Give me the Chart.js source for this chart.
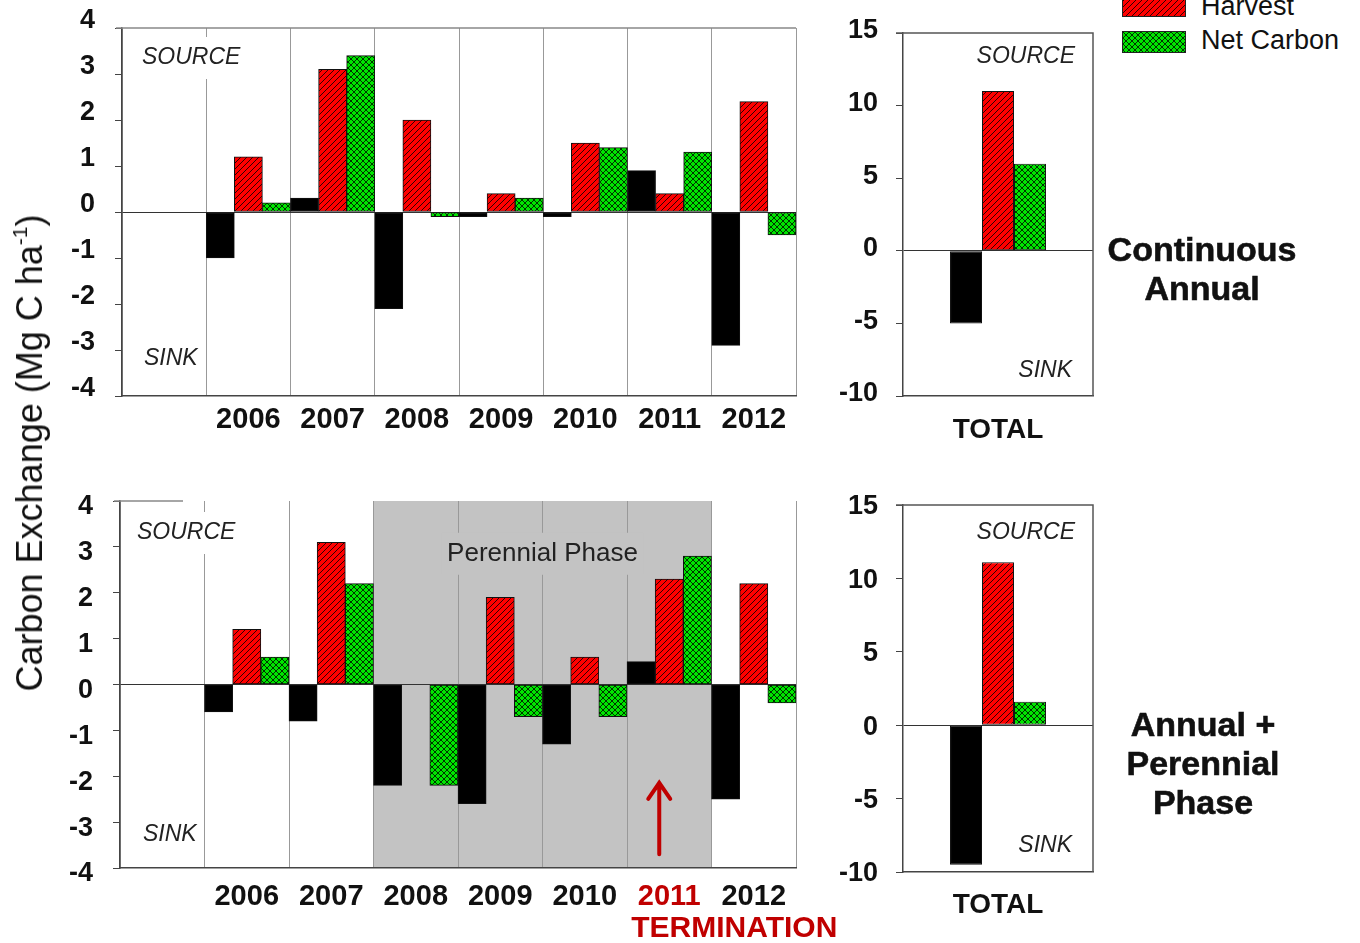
<!DOCTYPE html>
<html>
<head>
<meta charset="utf-8">
<script src="https://cdn.jsdelivr.net/npm/chart.js@4.4.1/dist/chart.umd.min.js"></script>
<style>
  html, body { margin: 0; padding: 0; background: #fff; width: 1360px; height: 943px; overflow: hidden;
    font-family: "Liberation Sans", Arial, sans-serif; }
  canvas.panel { position: absolute; }
  .txt { position: absolute; color: #111; white-space: nowrap; }
  .ytitle { left: 30px; top: 453px; font-size: 36px; transform: translate(-50%, -50%) rotate(-90deg); }
  .ytitle sup { font-size: 21px; position: relative; top: -2px; }
  .side { width: 300px; text-align: center; font-weight: bold; font-size: 34px; line-height: 39px;
    -webkit-text-stroke: 0.6px #111; }
  .legend-text { font-size: 27px; line-height: 30px; }
  canvas.swatch { position: absolute; border: 1px solid #222; }
</style>
</head>
<body>
<canvas id="annualYears" class="panel" style="left:0;top:-10px" width="830" height="460"></canvas>
<canvas id="annualTotal" class="panel" style="left:830px;top:-10px" width="280" height="460"></canvas>
<canvas id="rotationYears" class="panel" style="left:0;top:455px" width="850" height="488"></canvas>
<canvas id="rotationTotal" class="panel" style="left:830px;top:455px" width="280" height="488"></canvas>

<div class="txt ytitle">Carbon Exchange (Mg C ha<sup>-1</sup>)</div>
<div class="txt side" style="left:1052px;top:230px">Continuous<br>Annual</div>
<div class="txt side" style="left:1053px;top:705px">Annual +<br>Perennial<br>Phase</div>

<canvas id="swHarvest" class="swatch" style="left:1122px;top:-6px" width="62" height="21"></canvas>
<div class="txt legend-text" style="left:1201px;top:-9px">Harvest</div>
<canvas id="swNet" class="swatch" style="left:1122px;top:31px" width="62" height="20"></canvas>
<div class="txt legend-text" style="left:1201px;top:25px">Net Carbon</div>

<script>
// ---- data (Mg C ha-1) ----
const years = ['', '2006', '2007', '2008', '2009', '2010', '2011', '2012'];

const annualNee     = [null, -1.0, 0.3, -2.1, -0.1, -0.1, 0.9, -2.9];
const annualHarvest = [null,  1.2, 3.1,  2.0,  0.4,  1.5, 0.4,  2.4];
const annualNet     = [null,  0.2, 3.4, -0.1,  0.3,  1.4, 1.3, -0.5];

const rotationNee     = [null, -0.6, -0.8, -2.2, -2.6, -1.3, 0.5, -2.5];
const rotationHarvest = [null,  1.2,  3.1, null,  1.9,  0.6, 2.3,  2.2];
const rotationNet     = [null,  0.6,  2.2, -2.2, -0.7, -0.7, 2.8, -0.4];

const totalLabels = ['TOTAL'];
const annualTotalNee = [-5.0];
const annualTotalHarvest = [11.0];
const annualTotalNet = [6.0];
const rotationTotalNee = [-9.5];
const rotationTotalHarvest = [11.1];
const rotationTotalNet = [1.6];

const yearlyRange = [-4, 4];
const totalRange = [-10, 15];
const perennialSpan = ['2008', '2011'];
const terminationYear = '2011';

// ---- fills ----
const FONT = '"Liberation Sans", Arial, sans-serif';
const RED = '#ff0000', GREEN = '#00e400', DARK_RED = '#c00000';

function makeTile(size, draw) {
  const c = document.createElement('canvas');
  c.width = size; c.height = size;
  draw(c.getContext('2d'), size);
  return c;
}
const hatchTile = makeTile(6, (g, s) => {
  g.fillStyle = RED; g.fillRect(0, 0, s, s);
  g.strokeStyle = '#300000'; g.lineWidth = 1;
  g.beginPath();
  for (let k = -s; k <= s; k += s) { g.moveTo(k, s); g.lineTo(k + s, 0); }
  g.stroke();
});
const crossTile = makeTile(6, (g, s) => {
  g.fillStyle = GREEN; g.fillRect(0, 0, s, s);
  g.strokeStyle = '#003300'; g.lineWidth = 1;
  g.beginPath();
  for (let k = -s; k <= s; k += s) {
    g.moveTo(k, s); g.lineTo(k + s, 0);
    g.moveTo(k, 0); g.lineTo(k + s, s);
  }
  g.stroke();
});
function patternFor(tile) {
  const ctx = document.createElement('canvas').getContext('2d');
  return ctx.createPattern(tile, 'repeat');
}
const harvestFill = patternFor(hatchTile);
const netFill = patternFor(crossTile);

// legend swatches
[['swHarvest', harvestFill], ['swNet', netFill]].forEach(([id, fill]) => {
  const c = document.getElementById(id), g = c.getContext('2d');
  g.fillStyle = fill; g.fillRect(0, 0, c.width, c.height);
});

// ---- drawing helpers ----
function textWithBox(ctx, text, x, y, align, font, bg, color) {
  ctx.save();
  ctx.font = font;
  const w = ctx.measureText(text).width;
  const x0 = align === 'left' ? x : (align === 'center' ? x - w / 2 : x - w);
  if (bg) {
    ctx.fillStyle = bg;
    ctx.fillRect(x0 - 6, y - 21, w + 12, 42);
  }
  ctx.fillStyle = color || '#222';
  ctx.textAlign = 'left';
  ctx.textBaseline = 'middle';
  ctx.fillText(text, x0, y);
  ctx.restore();
}
const ITALIC = 'italic 23px ' + FONT;

function barDatasets(nee, harvest, net) {
  const common = { borderColor: '#111', borderWidth: 1, borderSkipped: false };
  return [
    Object.assign({ label: 'NEE', data: nee, backgroundColor: '#000' }, common),
    Object.assign({ label: 'Harvest', data: harvest, backgroundColor: harvestFill }, common),
    Object.assign({ label: 'Net Carbon', data: net, backgroundColor: netFill }, common)
  ];
}

function panelOptions(o) {
  return {
    responsive: false,
    animation: false,
    layout: { padding: { top: o.padTop, right: o.padRight, left: 0, bottom: 0 } },
    plugins: { legend: { display: false }, tooltip: { enabled: false } },
    datasets: { bar: { categoryPercentage: o.catPct, barPercentage: 1 } },
    scales: {
      x: {
        afterFit: s => { s.height = o.xHeight; },
        grid: { display: o.xGrid, offset: true, color: '#999', lineWidth: 1, drawTicks: false },
        border: { display: true, color: '#444', width: 1.5 },
        ticks: {
          padding: o.xPad,
          font: { family: FONT, size: o.xFont, weight: 'bold' },
          color: o.xColor || '#111',
          maxRotation: 0, autoSkip: false
        }
      },
      y: {
        min: o.range[0], max: o.range[1],
        afterFit: s => { s.width = o.yWidth; },
        grid: {
          color: c => (c.tick && c.tick.value === 0 ? '#333' : 'rgba(0,0,0,0)'),
          lineWidth: 1, tickColor: '#444', tickLength: 7, drawTicks: true
        },
        border: { display: true, color: '#444', width: 1.5 },
        ticks: {
          stepSize: o.step, padding: o.yPad, labelOffset: o.labelOffset,
          font: { family: FONT, size: 27, weight: 'bold' }, color: '#111'
        }
      }
    }
  };
}

// shaded band, plot frame pieces, SOURCE/SINK tags, termination marker
function yearlyDecor(opts) {
  return {
    id: 'yearlyDecor',
    beforeDraw(chart) {
      const { ctx, chartArea: a, scales: { x } } = chart;
      if (opts.shade) {
        const i0 = years.indexOf(opts.shade[0]), i1 = years.indexOf(opts.shade[1]);
        const half = (x.getPixelForValue(1) - x.getPixelForValue(0)) / 2;
        const x0 = x.getPixelForValue(i0) - half, x1 = x.getPixelForValue(i1) + half;
        ctx.save();
        ctx.fillStyle = '#c3c3c3';
        ctx.fillRect(x0, a.top, x1 - x0, a.bottom - a.top);
        ctx.restore();
      }
    },
    beforeDatasetsDraw(chart) {
      const { ctx, chartArea: a, scales: { x, y } } = chart;
      ctx.save();
      ctx.strokeStyle = '#888'; ctx.lineWidth = 1.5;
      ctx.beginPath();
      ctx.moveTo(a.left - 6, a.top);
      ctx.lineTo(opts.fullTop ? a.right : a.left + 63, a.top);
      ctx.stroke();
      ctx.restore();
      textWithBox(ctx, 'SOURCE', a.left + opts.srcDx, a.top + opts.srcDy, 'left', ITALIC, '#fff');
      textWithBox(ctx, 'SINK', a.left + opts.sinkDx, a.bottom - opts.sinkDy, 'left', ITALIC, '#fff');
      if (opts.shade) {
        const i0 = years.indexOf(opts.shade[0]), i1 = years.indexOf(opts.shade[1]);
        const cx = (x.getPixelForValue(i0) + x.getPixelForValue(i1)) / 2;
        textWithBox(ctx, 'Perennial Phase', cx, y.getPixelForValue(2.85), 'center',
          '26px ' + FONT, '#c3c3c3', '#222');
      }
    },
    afterDraw(chart) {
      if (!opts.termination) return;
      const { ctx, chartArea: a, scales: { x, y } } = chart;
      const i = years.indexOf(opts.termination);
      const ax = x.getPixelForValue(i) - 10;
      const yTail = y.getPixelForValue(-3.7), yHead = y.getPixelForValue(-2.1);
      ctx.save();
      ctx.strokeStyle = DARK_RED; ctx.lineWidth = 4; ctx.lineCap = 'round';
      ctx.beginPath();
      ctx.moveTo(ax, yTail); ctx.lineTo(ax, yHead + 2);
      ctx.moveTo(ax - 11, yHead + 18); ctx.lineTo(ax, yHead + 2); ctx.lineTo(ax + 11, yHead + 18);
      ctx.stroke();
      ctx.restore();
      ctx.save();
      ctx.font = 'bold 30px ' + FONT;
      ctx.fillStyle = DARK_RED;
      ctx.textAlign = 'left'; ctx.textBaseline = 'middle';
      ctx.fillText('TERMINATION', x.getPixelForValue(i) - 38, a.bottom + 61);
      ctx.restore();
    }
  };
}

function totalDecor(opts) {
  return {
    id: 'totalDecor',
    beforeDatasetsDraw(chart) {
      const { ctx, chartArea: a } = chart;
      ctx.save();
      ctx.strokeStyle = '#555'; ctx.lineWidth = 1.5;
      ctx.beginPath();
      ctx.moveTo(a.left - 7, a.top); ctx.lineTo(a.right, a.top); ctx.lineTo(a.right, a.bottom);
      ctx.stroke();
      ctx.restore();
      textWithBox(ctx, 'SOURCE', a.right - 18, a.top + opts.srcDy, 'right', ITALIC, null);
      textWithBox(ctx, 'SINK', a.right - 21, a.bottom - opts.sinkDy, 'right', ITALIC, null);
    }
  };
}

// ---- Continuous annual: yearly ----
new Chart(document.getElementById('annualYears'), {
  type: 'bar',
  data: { labels: years, datasets: barDatasets(annualNee, annualHarvest, annualNet) },
  options: panelOptions({
    padTop: 38, padRight: 34, yWidth: 122, xHeight: 54, range: yearlyRange, step: 1,
    catPct: 1, xGrid: true, xFont: 29, xPad: 7, yPad: 20, labelOffset: -7
  }),
  plugins: [yearlyDecor({ fullTop: true, srcDx: 20, srcDy: 30, sinkDx: 22, sinkDy: 37 })]
});

// ---- Continuous annual: total ----
new Chart(document.getElementById('annualTotal'), {
  type: 'bar',
  data: { labels: totalLabels, datasets: barDatasets(annualTotalNee, annualTotalHarvest, annualTotalNet) },
  options: panelOptions({
    padTop: 43, padRight: 17, yWidth: 73, xHeight: 54, range: totalRange, step: 5,
    catPct: 0.505, xGrid: false, xFont: 28, xPad: 17, yPad: 18, labelOffset: -2
  }),
  plugins: [totalDecor({ srcDy: 24, sinkDy: 25 })]
});

// ---- Annual + perennial phase: yearly ----
new Chart(document.getElementById('rotationYears'), {
  type: 'bar',
  data: { labels: years, datasets: barDatasets(rotationNee, rotationHarvest, rotationNet) },
  options: panelOptions({
    padTop: 46, padRight: 54, yWidth: 120, xHeight: 75, range: yearlyRange, step: 1,
    catPct: 1, xGrid: true, xFont: 29, xPad: 12, yPad: 20, labelOffset: 6,
    xColor: c => (c.tick && c.tick.label === terminationYear ? DARK_RED : '#111')
  }),
  plugins: [yearlyDecor({ fullTop: false, srcDx: 17, srcDy: 32, sinkDx: 23, sinkDy: 33,
    shade: perennialSpan, termination: terminationYear })]
});

// ---- Annual + perennial phase: total ----
new Chart(document.getElementById('rotationTotal'), {
  type: 'bar',
  data: { labels: totalLabels, datasets: barDatasets(rotationTotalNee, rotationTotalHarvest, rotationTotalNet) },
  options: panelOptions({
    padTop: 50, padRight: 17, yWidth: 73, xHeight: 71, range: totalRange, step: 5,
    catPct: 0.505, xGrid: false, xFont: 28, xPad: 16, yPad: 18, labelOffset: 2
  }),
  plugins: [totalDecor({ srcDy: 28, sinkDy: 26 })]
});
</script>
</body>
</html>
